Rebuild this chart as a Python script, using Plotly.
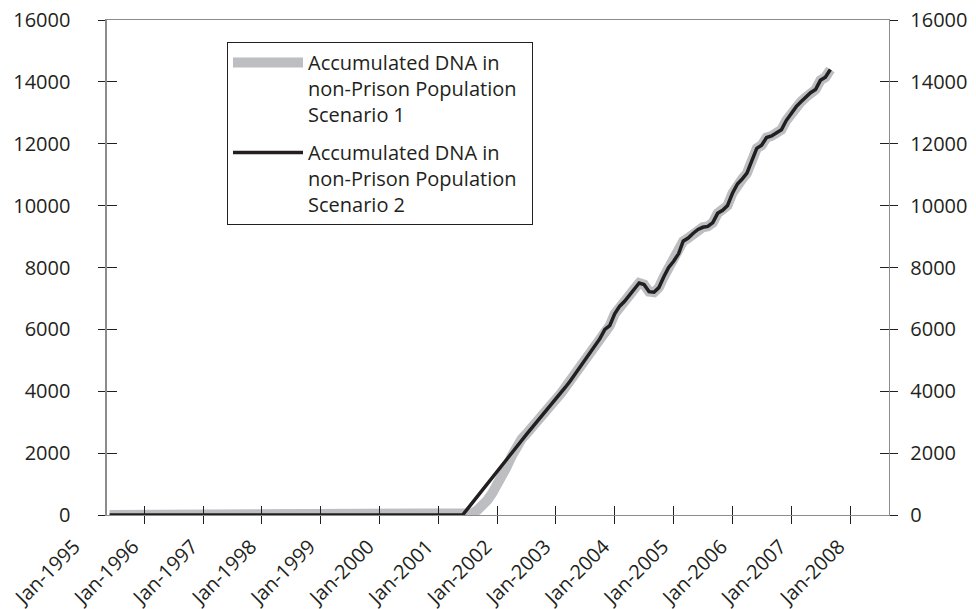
import plotly.graph_objects as go
import pandas as pd

# ---------------- data ----------------
# monthly points, Jun-1995 .. Sep-2007
months = pd.date_range("1995-06-01", "2007-09-01", freq="MS")

# Jun-1995 .. May-2001: no accumulated DNA (flat at zero)
flat_part = [
    0, 0, 0, 0, 0, 0, 0,                      # 1995 Jun-Dec
    0, 0, 0, 0, 0, 0, 0, 0, 0, 0, 0, 0,       # 1996
    0, 0, 0, 0, 0, 0, 0, 0, 0, 0, 0, 0,       # 1997
    0, 0, 0, 0, 0, 0, 0, 0, 0, 0, 0, 0,       # 1998
    0, 0, 0, 0, 0, 0, 0, 0, 0, 0, 0, 0,       # 1999
    0, 0, 0, 0, 0, 0, 0, 0, 0, 0, 0, 0,       # 2000
    0, 0, 0, 0, 0,                            # 2001 Jan-May
]

# Jun-2001 .. Sep-2007, Scenario 1
scenario1_rise = [
    0, 15, 60, 160, 300, 480, 700,                                          # 2001
    950, 1250, 1550, 1900, 2250, 2450, 2620, 2790, 2980, 3170, 3360, 3550,  # 2002
    3740, 3930, 4130, 4340, 4560, 4780, 5000, 5220, 5450, 5700, 6000, 6120, # 2003
    6500, 6750, 6900, 7100, 7300, 7500, 7450, 7220, 7200, 7350, 7700, 8000, # 2004
    8200, 8450, 8850, 8950, 9100, 9230, 9300, 9330, 9450, 9750, 9850, 10000,  # 2005
    10400, 10700, 10850, 11050, 11450, 11850, 11950, 12200, 12250, 12350, 12450, 12750,  # 2006
    13000, 13200, 13350, 13500, 13650, 13750, 14050, 14150, 14400,          # 2007
]

# Jun-2001 .. Sep-2007, Scenario 2
scenario2_rise = [
    0, 200, 400, 600, 800, 1000, 1200,                                      # 2001
    1400, 1600, 1800, 2000, 2200, 2400, 2600, 2790, 2980, 3170, 3360, 3550, # 2002
    3740, 3930, 4130, 4340, 4560, 4780, 5000, 5220, 5450, 5700, 6000, 6120, # 2003
    6500, 6750, 6900, 7100, 7300, 7500, 7450, 7220, 7200, 7350, 7700, 8000, # 2004
    8200, 8450, 8850, 8950, 9100, 9230, 9300, 9330, 9450, 9750, 9850, 10000,  # 2005
    10400, 10700, 10850, 11050, 11450, 11850, 11950, 12200, 12250, 12350, 12450, 12750,  # 2006
    13000, 13200, 13350, 13500, 13650, 13750, 14050, 14150, 14400,          # 2007
]

scenario1 = flat_part + scenario1_rise
scenario2 = flat_part + scenario2_rise

series_names = [
    "Accumulated DNA in<br>non-Prison Population&nbsp;&nbsp;<br>Scenario 1",
    "Accumulated DNA in<br>non-Prison Population&nbsp;&nbsp;<br>Scenario 2",
]

tick_years = list(range(1996, 2009))
tick_dates = [f"{y}-01-01" for y in tick_years]
label_years = list(range(1995, 2009))
label_dates = [f"{y}-01-01" for y in label_years]
label_text = [f"Jan-{y}" for y in label_years]

y_ticks = [0, 2000, 4000, 6000, 8000, 10000, 12000, 14000, 16000]
y_tick_text = [str(v) for v in y_ticks]

# ---------------- layout helpers (window pixels) ----------------
W, H = 976, 609
axis_left_px = 106.7
axis_right_px = 889
top_px = 20
bottom_px = 515
label_axis_left_px = 62
LABEL_SHIFT = 11          # date labels sit a little left of their tick

ML = 52
MR = W - axis_right_px
MT = top_px
MB = H - bottom_px
plot_w = W - ML - MR
plot_h = H - MT - MB

x_range = [pd.Timestamp("1995-05-14"), pd.Timestamp("2008-08-30")]
main_span_px = axis_right_px - axis_left_px
span = x_range[1] - x_range[0]
lab_range = [
    x_range[0] + span * ((label_axis_left_px - axis_left_px + LABEL_SHIFT) / main_span_px),
    x_range[1] + span * (LABEL_SHIFT / main_span_px),
]

main_dom = [(axis_left_px - ML) / plot_w, 1]
lab_dom = [(label_axis_left_px - ML) / plot_w, 1]

FONT = "Open Sans"
TXT = "#231f20"
LINE = "#8c8c8c"
FS = 20
CLEAR = "rgba(0,0,0,0)"

fig = go.Figure()
fig.add_trace(go.Scatter(
    x=months, y=scenario1, mode="lines", name=series_names[0],
    line=dict(color="#bdbec1", width=10), legendgroup="s1",
))
fig.add_trace(go.Scatter(
    x=months, y=scenario2, mode="lines", name=series_names[1],
    line=dict(color=TXT, width=3.5), legendgroup="s2",
))
# transparent copies so that every helper axis belongs to a subplot with data
for xa, ya in [("x2", "y3"), ("x3", "y2"), ("x", "y4")]:
    fig.add_trace(go.Scatter(
        x=months, y=scenario2, mode="lines", xaxis=xa, yaxis=ya,
        line=dict(color=CLEAR, width=1), showlegend=False, hoverinfo="skip",
    ))

common_x = dict(type="date", range=x_range, domain=main_dom, automargin=False,
                tickvals=tick_dates, showgrid=False, zeroline=False)
common_y = dict(type="linear", range=[0, 16000], tickvals=y_ticks, ticktext=y_tick_text,
                automargin=False, showgrid=False, zeroline=False)

fig.update_layout(
    width=W, height=H,
    margin=dict(l=ML, r=MR, t=MT, b=MB, pad=0, autoexpand=False),
    paper_bgcolor="white", plot_bgcolor=CLEAR,
    font=dict(family=FONT, size=FS, color=TXT),
    showlegend=True,
    legend=dict(
        x=(227 - ML) / plot_w, y=(bottom_px - 42) / plot_h,
        xanchor="left", yanchor="top",
        bordercolor=TXT, borderwidth=1, bgcolor="white",
        font=dict(family=FONT, size=FS, color=TXT),
        valign="top", itemwidth=70,
        traceorder="grouped", tracegroupgap=9,
    ),
    xaxis=dict(**common_x, showticklabels=False,
               ticks="outside", ticklen=8, tickcolor=TXT, tickwidth=1,
               showline=True, linecolor=LINE, linewidth=1.3, mirror=True,
               anchor="y"),
    xaxis2=dict(**common_x, overlaying="x", anchor="y",
                ticks="inside", ticklen=9, tickcolor=TXT, tickwidth=1,
                showticklabels=False, showline=False),
    xaxis3=dict(type="date", range=lab_range, domain=lab_dom,
                tickvals=label_dates, ticktext=label_text, tickangle=-45,
                ticks="outside", ticklen=8, tickcolor=CLEAR,
                showline=False, showgrid=False, zeroline=False, automargin=False,
                ticklabelstandoff=3, ticklabeloverflow="allow", anchor="y"),
    yaxis=dict(**common_y, side="left", anchor="x",
               ticks="outside", ticklen=7, tickcolor=TXT, tickwidth=1,
               showline=True, linecolor=LINE, linewidth=1.3,
               ticklabelstandoff=24, ticklabeloverflow="allow"),
    yaxis2=dict(**common_y, side="right", overlaying="y", anchor="x",
                ticks="outside", ticklen=8, tickcolor=TXT, tickwidth=1,
                showline=True, linecolor=LINE, linewidth=1.3,
                ticklabelstandoff=8, ticklabeloverflow="allow"),
    yaxis3=dict(**common_y, side="left", overlaying="y", anchor="x",
                ticks="inside", ticklen=10, tickcolor=TXT, tickwidth=1,
                showticklabels=False, showline=False),
    yaxis4=dict(**common_y, side="right", overlaying="y", anchor="x",
                ticks="inside", ticklen=9, tickcolor=TXT, tickwidth=1,
                showticklabels=False, showline=False),
)

# the page's default body margin would push the figure 8px off the window
fig.write_html(
    "out.html",
    config={"displayModeBar": False, "staticPlot": True},
    post_script="document.body.style.margin='0';",
)
